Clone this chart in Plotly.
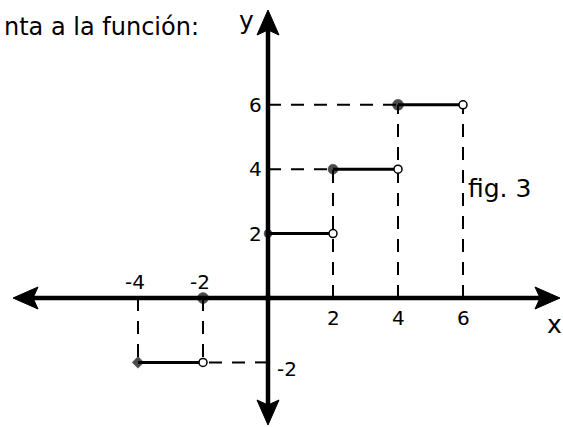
import plotly.graph_objects as go

# ---------------- data ----------------
step_x_start = [-4, 0, 2, 4]
step_x_end = [-2, 2, 4, 6]
step_y = [-2, 2, 4, 6]
axis_points_x = [-2, 0]
axis_points_y = [0, 0]
x_tick_vals = [-4, -2, 2, 4, 6]
x_tick_text = ["-4", "-2", "2", "4", "6"]
y_tick_vals = [-2, 2, 4, 6]
y_tick_text = ["-2", "2", "4", "6"]
title_text = "nta a la función:"
fig_label = "fig. 3"

# ---------------- geometry (pixels -> data) ----------------
W, H = 563, 427
OX, OY = 268, 298          # origin in pixels
SX, SY = 32.5, 32.2        # pixels per unit
x_range = [-OX / SX, (W - OX) / SX]
y_range = [-(H - OY) / SY, OY / SY]

x_axis_min = -(OX - 13) / SX
x_axis_max = (560 - OX) / SX
y_axis_max = (OY - 10) / SY
y_axis_min = -(425 - OY) / SY

HEAD_LEN = 25   # px
HEAD_NOTCH = 5  # px
HEAD_HALF = 11  # px

fig = go.Figure()

# dashed guide lines
dash_style = dict(color="black", width=2, dash="13px,10px")
for xs, xe, y in zip(step_x_start, step_x_end, step_y):
    for xv in (xs, xe):
        if xv != 0:
            fig.add_trace(go.Scatter(x=[xv, xv], y=[0, y], mode="lines",
                                     line=dash_style, hoverinfo="skip"))
    near = xs if abs(xs) < abs(xe) else xe
    if near != 0:
        fig.add_trace(go.Scatter(x=[0, near], y=[y, y], mode="lines",
                                 line=dash_style, hoverinfo="skip"))

# axes lines
axis_line = dict(color="black", width=4.5)
fig.add_trace(go.Scatter(x=[x_axis_min + HEAD_LEN / SX * 0.6, x_axis_max - HEAD_LEN / SX * 0.6],
                         y=[0, 0], mode="lines", line=axis_line, hoverinfo="skip"))
fig.add_trace(go.Scatter(x=[0, 0], y=[y_axis_min + HEAD_LEN / SY * 0.6, y_axis_max - HEAD_LEN / SY * 0.6],
                         mode="lines", line=axis_line, hoverinfo="skip"))

# arrow heads
def head(tip_x, tip_y, dx, dy):
    px, py = -dy, dx
    bx = tip_x - dx * HEAD_LEN / SX
    by = tip_y - dy * HEAD_LEN / SY
    nx = tip_x - dx * (HEAD_LEN - HEAD_NOTCH) / SX
    ny = tip_y - dy * (HEAD_LEN - HEAD_NOTCH) / SY
    xs = [tip_x, bx + px * HEAD_HALF / SX, nx, bx - px * HEAD_HALF / SX, tip_x]
    ys = [tip_y, by + py * HEAD_HALF / SY, ny, by - py * HEAD_HALF / SY, tip_y]
    fig.add_trace(go.Scatter(x=xs, y=ys, mode="lines", fill="toself",
                             fillcolor="black", line=dict(color="black", width=1),
                             hoverinfo="skip"))

head(x_axis_min, 0, -1, 0)
head(x_axis_max, 0, 1, 0)
head(0, y_axis_max, 0, 1)
head(0, y_axis_min, 0, -1)

# step segments
for xs, xe, y in zip(step_x_start, step_x_end, step_y):
    fig.add_trace(go.Scatter(x=[xs, xe], y=[y, y], mode="lines",
                             line=dict(color="black", width=3), hoverinfo="skip"))

# closed endpoints
fig.add_trace(go.Scatter(x=step_x_start, y=step_y, mode="markers",
                         marker=dict(color="black", size=[9, 8, 10, 11],
                                     symbol=["diamond", "circle", "circle", "circle"],
                                     line=dict(color="black", width=0.5)),
                         hoverinfo="skip"))
# open endpoints
fig.add_trace(go.Scatter(x=step_x_end, y=step_y, mode="markers",
                         marker=dict(color="white", size=8, symbol="circle",
                                     line=dict(color="black", width=1.5)),
                         hoverinfo="skip"))
# points on x-axis
fig.add_trace(go.Scatter(x=axis_points_x, y=axis_points_y, mode="markers",
                         marker=dict(color="black", size=[11, 6],
                                     line=dict(color="black", width=0.5)),
                         hoverinfo="skip"))

FONT = "DejaVu Sans"
TICK_FONT = dict(size=20, family=FONT, color="black")
ann = []
for v, t in zip(x_tick_vals, x_tick_text):
    if v < 0:
        ann.append(dict(x=v, y=0, text=t, showarrow=False, yshift=16,
                        xshift=-3, font=TICK_FONT))
    else:
        ann.append(dict(x=v, y=0, text=t, showarrow=False, yshift=-20,
                        font=TICK_FONT))
for v, t in zip(y_tick_vals, y_tick_text):
    if v < 0:
        ann.append(dict(x=0, y=v, text=t, showarrow=False, xshift=19, yshift=-7,
                        font=TICK_FONT))
    else:
        ann.append(dict(x=0, y=v, text=t, showarrow=False, xshift=-13,
                        font=TICK_FONT))

ann.append(dict(x=(554 - OX) / SX, y=-(324 - OY) / SY, text="x", showarrow=False,
                font=dict(size=25, family=FONT, color="black")))
ann.append(dict(x=(246 - OX) / SX, y=(OY - 20) / SY, text="y", showarrow=False,
                font=dict(size=25, family=FONT, color="black")))
ann.append(dict(x=(499 - OX) / SX, y=(OY - 188) / SY, text=fig_label, showarrow=False,
                font=dict(size=25, family=FONT, color="black")))
ann.append(dict(xref="paper", yref="paper", x=201 / W, y=1 - 11 / H, text=title_text,
                xanchor="right", showarrow=False,
                font=dict(size=24, family=FONT, color="black")))

fig.update_layout(
    width=W, height=H,
    margin=dict(l=0, r=0, t=0, b=0),
    paper_bgcolor="white", plot_bgcolor="white",
    showlegend=False,
    xaxis=dict(range=x_range, visible=False, fixedrange=True),
    yaxis=dict(range=y_range, visible=False, fixedrange=True),
    annotations=ann,
)

fig.write_html("out.html", config={"displayModeBar": False},
               post_script="document.body.style.margin='0';")
